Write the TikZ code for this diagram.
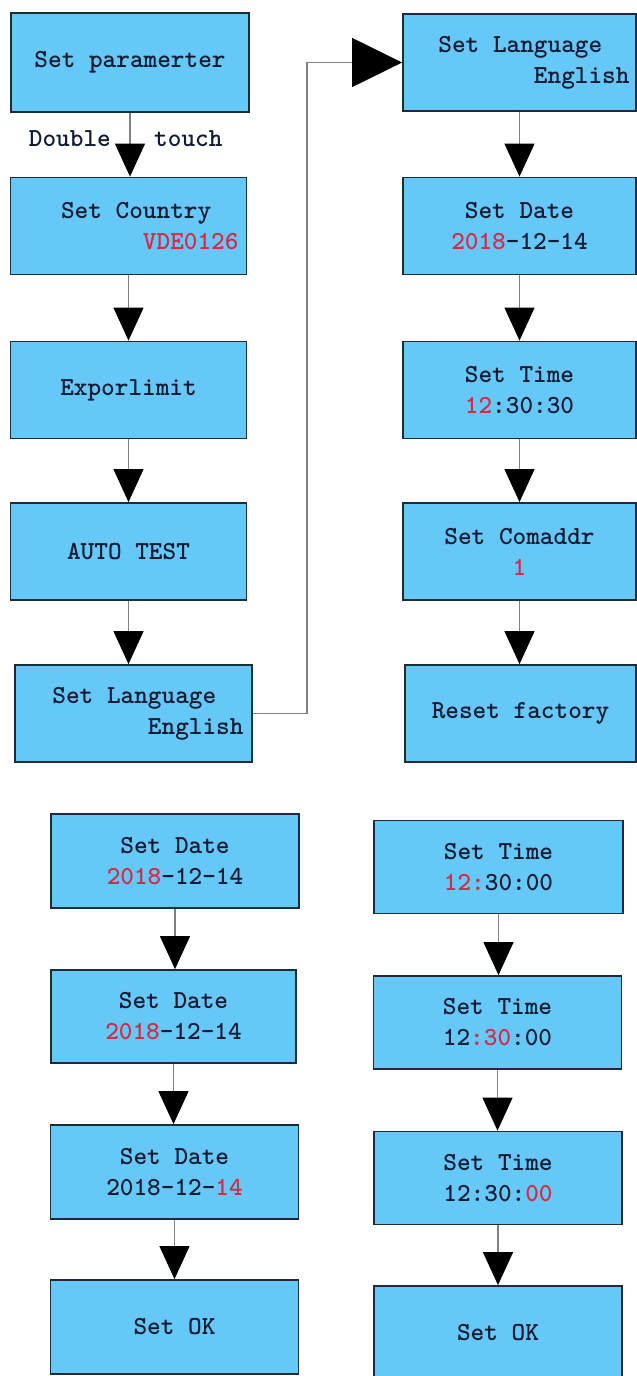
\documentclass[tikz,border=0pt]{standalone}
\usepackage{fontspec}
\usepackage{xcolor}
\usetikzlibrary{arrows.meta}

\definecolor{panel}{HTML}{66C8F7}
\definecolor{edge}{HTML}{1E2B38}
\definecolor{ink}{HTML}{101B33}
\definecolor{hot}{HTML}{D42A48}
\definecolor{wire}{HTML}{808080}
\newcommand{\hl}[1]{\textcolor{hot}{#1}}

\begin{document}
\begin{tikzpicture}[x=1pt, y=-1pt,
    box/.style={draw=edge, line width=1.8pt, fill=panel, text=ink,
        font=\fontsize{26}{31}\selectfont\ttfamily\bfseries,
        minimum width=236pt, minimum height=97pt, inner sep=0pt, align=center},
    rbox/.style={box, text width=220pt, align=right,
        execute at begin node={\spaceskip=0.525em\relax}},
    lbox/.style={box, minimum width=248pt, minimum height=93pt},
    tag/.style={text=ink, font=\fontsize{26}{31}\selectfont\ttfamily\bfseries, inner sep=0pt},
    flow/.style={draw=wire, line width=1.2pt, -{Triangle[length=33pt, width=30pt, color=black]}}]
    \useasboundingbox (0,0) rectangle (637,1376);

    % Left column
    \node[box, minimum width=238pt, minimum height=99pt] (param) at (130,62.5) {Set paramerter};
    \node[rbox] (country) at (128.5,226) {Set Country\hphantom{xx}\\\hl{VDE0126}};
    \node[box] (export) at (128.5,390) {Exporlimit};
    \node[box] (auto) at (128.5,551.5) {AUTO TEST};
    \node[rbox, minimum width=237pt] (langL) at (133.5,713.5) {Set Language\hphantom{xx}\\English};

    \node[tag, anchor=east] (dbl) at (111,139) {Double};
    \node[tag, anchor=west] (tch) at (154,139) {touch};

    % Right column
    \node[rbox, minimum width=233pt] (langR) at (519.5,62.5) {Set Language\hphantom{xx}\\English};
    \node[box, minimum width=233pt] (dateR) at (519.5,226) {Set Date\\\hl{2018}-12-14};
    \node[box, minimum width=233pt] (timeR) at (519.5,390) {Set Time\\\hl{12}:30:30};
    \node[box, minimum width=233pt] (comR) at (519.5,551.5) {Set Comaddr\\\hl{1}};
    \node[box, minimum width=231pt] (resetR) at (520.5,713.5) {Reset factory};

    % Date steps
    \node[lbox, minimum height=94pt] (d1) at (175,861) {Set Date\\\hl{2018}-12-14};
    \node[lbox, minimum width=245pt] (d2) at (173.5,1016.5) {Set Date\\\hl{2018}-12-14};
    \node[lbox, minimum height=94pt] (d3) at (174.5,1172) {Set Date\\2018-12-\hl{14}};
    \node[lbox, minimum height=94pt] (okL) at (174.5,1327) {Set OK};

    % Time steps
    \node[lbox, minimum width=249pt] (t1) at (498.5,867) {Set Time\\\hl{12:}30:00};
    \node[lbox] (t2) at (497.5,1022.5) {Set Time\\12\hl{:30}:00};
    \node[lbox] (t3) at (498,1178) {Set Time\\12:30:\hl{00}};
    \node[lbox, minimum height=94pt] (okR) at (498,1333) {Set OK};

    % Arrows
    \foreach \a/\b in {param/country, country/export, export/auto, auto/langL,
        langR/dateR, dateR/timeR, timeR/comR, comR/resetR,
        d1/d2, d2/d3, d3/okL, t1/t2, t2/t3, t3/okR}
        \draw[flow] (\a.south) -- (\a.south |- \b.north);

    \draw[flow, -{Triangle[length=50pt, width=49pt, color=black]}]
        (langL.east) -- ++(54,0) |- (langR.west);
\end{tikzpicture}
\end{document}
